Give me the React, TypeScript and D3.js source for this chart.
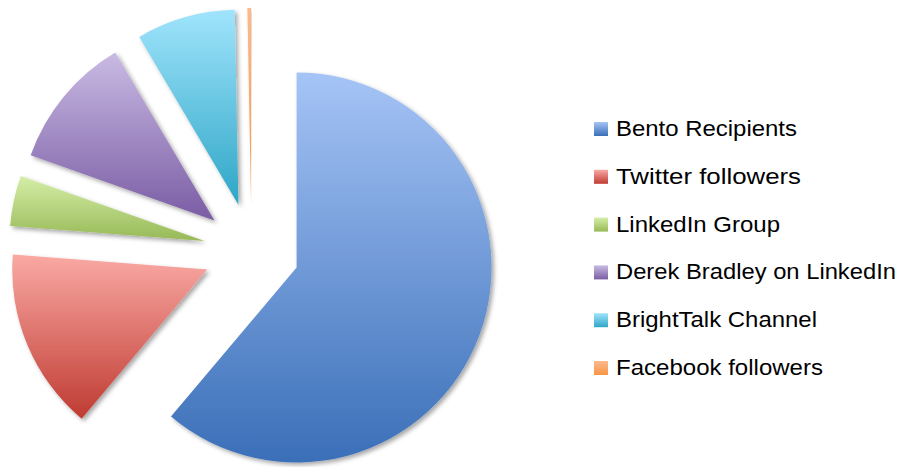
import React from "react";
import * as d3 from "d3";

const categories = [
  "Bento Recipients",
  "Twitter followers",
  "LinkedIn Group",
  "Derek Bradley on LinkedIn",
  "BrightTalk Channel",
  "Facebook followers",
];
const values = [612, 151, 42, 111, 82, 3];
const topColors = ["#a6c4f6", "#faa9a4", "#d5eea8", "#c9bae3", "#a0e4fc", "#fcba8e"];
const bottomColors = ["#3a6fb8", "#bf3b32", "#97b956", "#7a5ca4", "#2ea6c6", "#f79444"];
const labelWidths = [181, 185, 164, 280, 201, 207];

const W = 902;
const H = 467;
const cx = 251.5;
const cy = 251;
const R = 195;
const explode = 48;

export default function App() {
  const data = categories.map((c, i) => ({ c, v: values[i], i }));
  const pie = d3
    .pie<any>()
    .sort(null)
    .value((d: any) => d.v)
    .startAngle(0)
    .endAngle(2 * Math.PI);
  const arcs = pie(data);
  const arc = d3.arc<any>().innerRadius(0).outerRadius(R);

  const legendY = d3.scaleLinear().domain([0, 5]).range([136, 375]);

  return (
    <svg
      width={W}
      height={H}
      style={{ position: "absolute", left: 0, top: 0, background: "#fff" }}
    >
      <defs>
        {categories.map((c, i) => (
          <linearGradient key={i} id={`g${i}`} x1="0" y1="0" x2="0" y2="1">
            <stop offset="0" stopColor={topColors[i]} />
            <stop offset="1" stopColor={bottomColors[i]} />
          </linearGradient>
        ))}
        <filter id="sh" x="-20%" y="-20%" width="140%" height="140%">
          <feDropShadow dx="2.5" dy="2.5" stdDeviation="2" floodColor="#000" floodOpacity="0.35" />
        </filter>
      </defs>
      <g transform={`translate(${cx},${cy})`}>
        {arcs.map((a, i) => {
          const mid = (a.startAngle + a.endAngle) / 2;
          const tx = explode * Math.sin(mid);
          const ty = -explode * Math.cos(mid);
          return (
            <path
              key={i}
              d={arc(a) as string}
              transform={`translate(${tx},${ty})`}
              fill={`url(#g${i})`}
              filter="url(#sh)"
            />
          );
        })}
      </g>
      <g>
        {categories.map((c, i) => {
          const y = legendY(i);
          return (
            <g key={i}>
              <rect x={594} y={y - 14} width={14} height={14} fill={`url(#g${i})`} />
              <text
                x={616}
                y={y}
                fontFamily="Liberation Sans, Arial, sans-serif"
                fontSize={22}
                fill="#000"
                textLength={labelWidths[i]}
                lengthAdjust="spacingAndGlyphs"
              >
                {c}
              </text>
            </g>
          );
        })}
      </g>
    </svg>
  );
}
